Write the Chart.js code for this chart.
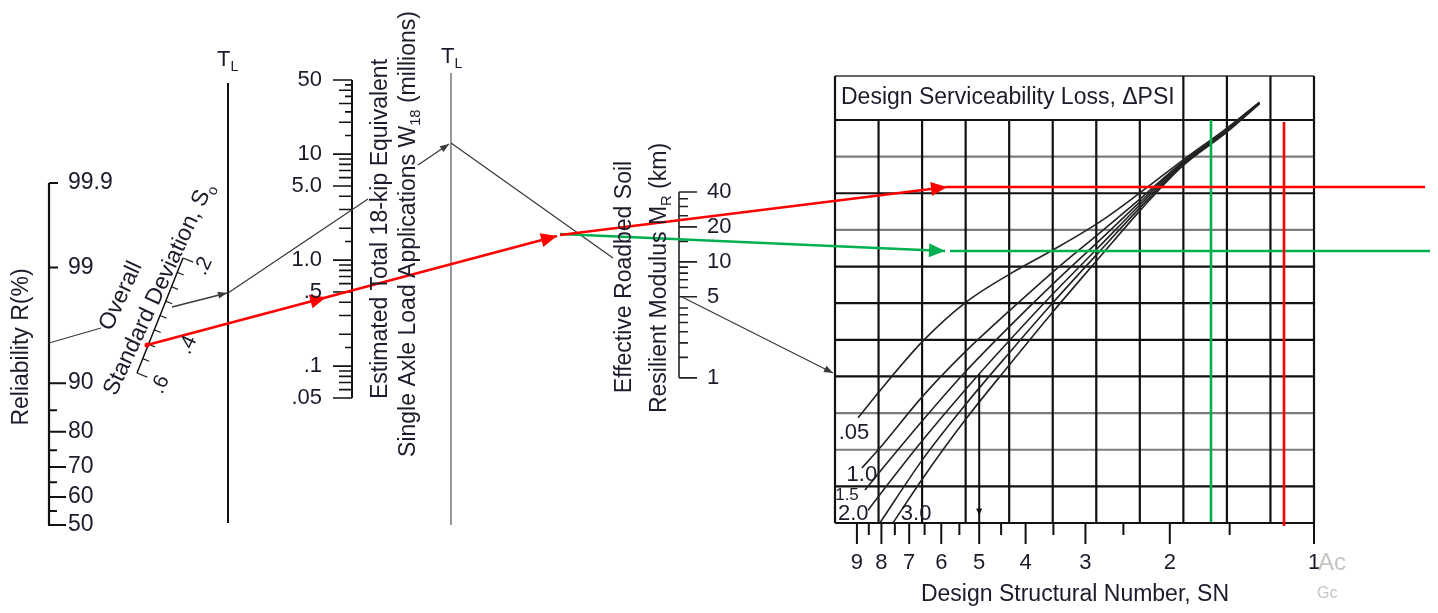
<!DOCTYPE html>
<html>
<head>
<meta charset="utf-8">
<title>Flexible pavement design nomograph</title>
<script src="https://cdn.jsdelivr.net/npm/chart.js@4.4.1/dist/chart.umd.min.js"></script>
<style>
body { margin: 0; background: #fff; }
canvas { display: block; }
</style>
</head>
<body>
<canvas id="nomo" width="1438" height="613"></canvas>
<script>
"use strict";

let reliabilityTicks = [50, 55, 60, 65, 70, 75, 80, 85, 90, 99, 99.9];
let reliabilityLabels = [99.9, 99, 90, 80, 70, 60, 50];
let deviationTicks = [0.2, 0.25, 0.3, 0.35, 0.4, 0.45, 0.5, 0.55, 0.6];
let deviationLabels = [0.2, 0.4, 0.6];
let loadTicks = [0.05, 0.06, 0.07, 0.08, 0.09, 0.1, 0.15, 0.2, 0.3, 0.4, 0.5, 0.6, 0.7, 0.8, 0.9,
                 1, 1.5, 2, 3, 4, 5, 6, 7, 8, 9, 10, 15, 20, 25, 30, 35, 40, 45, 50];
let loadLabels = [50, 10, 5, 1, 0.5, 0.1, 0.05];
let loadLabelText = ["50", "10", "5.0", "1.0", ".5", ".1", ".05"];
let modulusTicks = [1, 1.5, 2, 2.5, 3, 3.5, 4, 5, 6, 7, 8, 9, 10, 15, 20, 25, 30, 35, 40];
let modulusLabels = [40, 20, 10, 5, 1];
let snTicks = [1.5, 2, 2.5, 3, 3.5, 4, 4.5, 5, 5.5, 6, 6.5, 7, 7.5, 8, 8.5, 9];
let snLabels = [9, 8, 7, 6, 5, 4, 3, 2, 1];

// serviceability loss curves: [SN, grid rows above the SN axis]
let psi005 = [[8.95, 2.87], [8.13, 3.55], [6.55, 4.97], [5.35, 6.01], [4.31, 6.80], [3.51, 7.45],
              [2.80, 8.22], [2.31, 9.01], [1.89, 9.88], [1.52, 10.78], [1.30, 11.49]];
let psi10 = [[8.79, 1.50], [8.13, 1.99], [6.55, 3.47], [5.35, 4.67], [4.31, 5.81], [3.51, 6.85],
             [2.80, 7.92], [2.31, 8.84], [1.89, 9.83], [1.52, 10.73], [1.30, 11.46]];
let psi15 = [[8.66, 0.90], [8.13, 1.34], [6.55, 2.81], [5.35, 4.12], [4.31, 5.38], [3.51, 6.52],
             [2.80, 7.72], [2.31, 8.76], [1.89, 9.80], [1.52, 10.73], [1.30, 11.46]];
let psi20 = [[8.53, 0.35], [8.13, 0.71], [6.55, 2.27], [5.35, 3.63], [4.31, 5.00], [3.51, 6.25],
             [2.80, 7.56], [2.31, 8.68], [1.89, 9.77], [1.52, 10.70], [1.30, 11.46]];
let psi25 = [[8.06, 0], [6.55, 1.75], [5.35, 3.22], [4.31, 4.67], [3.51, 6.01],
             [2.80, 7.42], [2.31, 8.60], [1.89, 9.74], [1.52, 10.70], [1.30, 11.46]];
let psi30 = [[7.57, 0], [6.55, 1.23], [5.35, 2.81], [4.31, 4.34], [3.51, 5.76],
             [2.80, 7.26], [2.31, 8.52], [1.89, 9.72], [1.52, 10.67], [1.30, 11.44]];
let curveLabels = [".05", "1.0", "1.5", "2.0", "3.0"];

// worked example: result SN and the row where it leaves the curves
let snResult = 5;
let snResultRow = 4.07;

// guide lines of the worked example (drawing units)
let guideBlack = [[[49, 343], [101, 328]], [[172, 307], [227, 293]], [[228, 293], [368, 199]],
                  [[418, 165], [449, 144]], [[451, 143], [613, 258]], [[682, 297], [833, 373]]];
let guideRed = [[[147, 345], [557, 236]], [[560, 235], [947, 187]], [[947, 187], [1425, 187]],
                [[1284, 122], [1284, 526]]];
let guideGreen = [[[560, 234], [945, 251]], [[950, 251], [1430, 251]], [[1211, 120], [1211, 522]]];

// ---- layout of the drawing ----
const W = 1438, H = 613;
const FONT = "'Liberation Sans', Arial, Helvetica, sans-serif";
const INK = "#1b1b2c";
const R_AXIS = {x: 49, zero: 525, perZ: 110.7};
const SD_AXIS = {x0: 137, y0: 373, x1: 183, y1: 258, lo: 0.6, hi: 0.2};
const TL1 = {x: 228, top: 83, bottom: 523};
const TL2 = {x: 451, top: 73, bottom: 525};
const W_AXIS = {x: 352, top: 80, perDec: 106, topVal: 50};
const M_AXIS = {x: 679, top: 192, perDec: 116, topVal: 40};
const BOX = {left: 835, right: 1314, top: 120, cap: 76, bottom: 523, cols: 11, rows: 11, band: 8};
const grayRows = [2, 3, 8, 10];
const colW = (BOX.right - BOX.left) / BOX.cols;
const rowH = (BOX.bottom - BOX.top) / BOX.rows;
const decW = BOX.right - BOX.left;            // SN 10 -> 1 spans the box
const gTop = (BOX.bottom - BOX.cap) / rowH;
const curveLabelAt = [[9.13, 2.46, 22], [8.79, 1.31, 22], [9.44, 0.76, 17], [9.16, 0.25, 22], [6.77, 0.25, 22]];
const devLabelShift = [[22, 0], [37, -17], [26, -2]];

// inverse standard normal (Acklam)
function normInv(p) {
    const a = [-39.69683028665376, 220.9460984245205, -275.9285104469687, 138.3577518672690, -30.66479806614716, 2.506628277459239];
    const b = [-54.47609879822406, 161.5858368580409, -155.6989798598866, 66.80131188771972, -13.28068155288572];
    const c = [-0.007784894002430293, -0.3223964580411365, -2.400758277161838, -2.549732539343734, 4.374664141464968, 2.938163982698783];
    const d = [0.007784695709041462, 0.3224671290700398, 2.445134137142996, 3.754408661907416];
    let q, r;
    if (p < 0.02425) {
        q = Math.sqrt(-2 * Math.log(p));
        return (((((c[0]*q+c[1])*q+c[2])*q+c[3])*q+c[4])*q+c[5]) / ((((d[0]*q+d[1])*q+d[2])*q+d[3])*q+1);
    }
    if (p > 1 - 0.02425) {
        q = Math.sqrt(-2 * Math.log(1 - p));
        return -(((((c[0]*q+c[1])*q+c[2])*q+c[3])*q+c[4])*q+c[5]) / ((((d[0]*q+d[1])*q+d[2])*q+d[3])*q+1);
    }
    q = p - 0.5; r = q * q;
    return (((((a[0]*r+a[1])*r+a[2])*r+a[3])*r+a[4])*r+a[5])*q / (((((b[0]*r+b[1])*r+b[2])*r+b[3])*r+b[4])*r+1);
}

function relY(v) { return R_AXIS.zero - R_AXIS.perZ * normInv(v / 100); }
function loadY(v) { return W_AXIS.top + W_AXIS.perDec * Math.log10(W_AXIS.topVal / v); }
function modY(v) { return M_AXIS.top + M_AXIS.perDec * Math.log10(M_AXIS.topVal / v); }
const sdLen = Math.hypot(SD_AXIS.x1 - SD_AXIS.x0, SD_AXIS.y1 - SD_AXIS.y0);
const sdDir = [(SD_AXIS.x1 - SD_AXIS.x0) / sdLen, (SD_AXIS.y1 - SD_AXIS.y0) / sdLen];
const sdPerp = [-sdDir[1], sdDir[0]];
function devPoint(v) {
    let t = (SD_AXIS.lo - v) / (SD_AXIS.lo - SD_AXIS.hi);
    return [SD_AXIS.x0 + (SD_AXIS.x1 - SD_AXIS.x0) * t, SD_AXIS.y0 + (SD_AXIS.y1 - SD_AXIS.y0) * t];
}

function pt(x, y) { return {x: x, y: y}; }
function segments(list) {
    let out = [];
    list.forEach(function (s) {
        out.push(pt(s[0][0], s[0][1]), pt(s[1][0], s[1][1]), {x: null, y: null});
    });
    return out;
}

let datasets = [];
function addLine(data, style) {
    datasets.push(Object.assign({
        data: data, showLine: true, pointRadius: 0, pointHoverRadius: 0, borderWidth: 1.5, borderColor: INK,
        xAxisID: "px", yAxisID: "py", clip: false, spanGaps: false, tension: 0, order: 5
    }, style));
}

// reliability scale
addLine(segments([[[R_AXIS.x, relY(99.9)], [R_AXIS.x, relY(50) + 1]]]), {borderWidth: 2.2, borderColor: "#111"});
addLine(segments(reliabilityTicks.map(function (v) {
    let len = reliabilityLabels.indexOf(v) < 0 ? 8 : (v > 95 ? 9 : 17);
    return [[R_AXIS.x, relY(v)], [R_AXIS.x + len, relY(v)]];
})), {borderWidth: 2, borderColor: "#111"});

// overall standard deviation scale
addLine(segments([[devPoint(SD_AXIS.lo), devPoint(SD_AXIS.hi)]]), {borderWidth: 1.5, borderColor: "#111"});
addLine(segments(deviationTicks.map(function (v) {
    let p = devPoint(v), len = (v === SD_AXIS.lo || v === SD_AXIS.hi) ? 11 : 7;
    return [p, [p[0] + sdPerp[0] * len, p[1] + sdPerp[1] * len]];
})), {borderWidth: 1.2, borderColor: "#222"});

// turning lines
addLine(segments([[[TL1.x, TL1.top], [TL1.x, TL1.bottom]]]), {borderWidth: 2, borderColor: "#111"});
addLine(segments([[[TL2.x, TL2.top], [TL2.x, TL2.bottom]]]), {borderWidth: 1.2, borderColor: "#555"});

// W18 scale
addLine(segments([[[W_AXIS.x, loadY(50)], [W_AXIS.x, loadY(0.05)]]]), {borderWidth: 2, borderColor: "#111"});
addLine(segments(loadTicks.map(function (v) {
    let m = v / Math.pow(10, Math.floor(Math.log10(v) + 1e-9));
    let len = loadLabels.indexOf(v) >= 0 ? 19 : (Math.abs(m - Math.round(m)) > 0.01 ? 7 : 13);
    return [[W_AXIS.x - len, loadY(v)], [W_AXIS.x, loadY(v)]];
})), {borderWidth: 1.6, borderColor: "#111"});

// MR scale
addLine(segments([[[M_AXIS.x, modY(40)], [M_AXIS.x, modY(1)]]]), {borderWidth: 1.6, borderColor: "#222"});
addLine(segments(modulusTicks.map(function (v) {
    let len = modulusLabels.indexOf(v) >= 0 ? 18 : 9;
    return [[M_AXIS.x, modY(v)], [M_AXIS.x + len, modY(v)]];
})), {borderWidth: 1.6, borderColor: "#222"});

// design chart grid
let darkGrid = [], grayGrid = [];
for (let c = 0; c <= BOX.cols; c++) {
    darkGrid.push([[c, 0], [c, (c === 0 || c >= BOX.band) ? gTop : BOX.rows]]);
}
for (let r = 0; r <= BOX.rows; r++) {
    (grayRows.indexOf(r) >= 0 ? grayGrid : darkGrid).push([[0, r], [BOX.cols, r]]);
}
addLine(segments(darkGrid), {xAxisID: "gx", yAxisID: "gy", borderWidth: 2.2, borderColor: "#111", order: 9});
addLine(segments(grayGrid), {xAxisID: "gx", yAxisID: "gy", borderWidth: 2.2, borderColor: "#7d7d7d", order: 9});
addLine(segments([[[0, gTop], [BOX.cols, gTop]]]), {xAxisID: "gx", yAxisID: "gy", borderWidth: 2, borderColor: "#666", order: 9});

// SN axis ticks
addLine(segments(snTicks.concat([1]).map(function (v) {
    let len = snLabels.indexOf(v) >= 0 ? 21 : 12;
    return [[v, BOX.bottom], [v, BOX.bottom + len]];
})), {xAxisID: "sn", yAxisID: "py", borderWidth: 2, borderColor: "#111", order: 9});

// serviceability curves
[psi005, psi10, psi15, psi20, psi25, psi30].forEach(function (c) {
    addLine(c.map(function (p) { return pt(p[0], p[1]); }),
        {xAxisID: "sn", yAxisID: "gy", borderWidth: 1.6, borderColor: "#222",
         cubicInterpolationMode: "monotone", order: 7});
});

// worked example guides
addLine(segments(guideBlack), {borderWidth: 1.3, borderColor: "#3a3a3a", order: 3,
    arrows: [{i: 4, f: 1, len: 9, half: 3.5}, {i: 10, f: 1, len: 9, half: 3.5}, {i: 16, f: 1, len: 9, half: 3.5}]});
addLine(segments([[[snResult, snResultRow], [snResult, 0]]]), {xAxisID: "sn", yAxisID: "gy",
    borderWidth: 2, borderColor: "#111", order: 3, arrows: [{i: 1, f: 0.95, len: 7, half: 3}]});
addLine(segments(guideRed), {borderWidth: 2.6, borderColor: "#ff0000", order: 1,
    pointRadius: function (ctx) { return ctx.dataIndex === 0 ? 2.5 : 0; }, pointBackgroundColor: "#ff0000",
    pointBorderWidth: 0,
    arrows: [{i: 1, f: 0.437, len: 16, half: 7}, {i: 1, f: 1, len: 16, half: 7}, {i: 4, f: 1, len: 16, half: 7}]});
addLine(segments(guideGreen), {borderWidth: 2.6, borderColor: "#00b050", order: 2,
    arrows: [{i: 1, f: 1, len: 16, half: 7}]});

// arrow heads on guide segments
const arrowPlugin = {
    id: "arrows",
    afterDatasetsDraw(chart) {
        let ctx = chart.ctx;
        chart.data.datasets.forEach(function (ds, k) {
            if (!ds.arrows) return;
            let pts = chart.getDatasetMeta(k).data;
            ds.arrows.forEach(function (a) {
                let p0 = pts[a.i - 1], p1 = pts[a.i];
                let tx = p0.x + (p1.x - p0.x) * a.f, ty = p0.y + (p1.y - p0.y) * a.f;
                ctx.save();
                ctx.translate(tx, ty);
                ctx.rotate(Math.atan2(p1.y - p0.y, p1.x - p0.x));
                ctx.beginPath();
                ctx.moveTo(0, 0);
                ctx.lineTo(-a.len, -a.half);
                ctx.lineTo(-a.len, a.half);
                ctx.closePath();
                ctx.fillStyle = ds.borderColor;
                ctx.fill();
                ctx.restore();
            });
        });
    }
};

function rich(ctx, parts, x, y, rot, align, size, color) {
    ctx.save();
    ctx.translate(x, y);
    ctx.rotate(rot * Math.PI / 180);
    ctx.fillStyle = color || INK;
    ctx.textBaseline = "middle";
    ctx.textAlign = "left";
    let widths = parts.map(function (p) {
        ctx.font = (p.sub ? size * 0.64 : size) + "px " + FONT;
        return ctx.measureText(p.t).width;
    });
    let total = widths.reduce(function (a, b) { return a + b; }, 0);
    let cx = align === "center" ? -total / 2 : (align === "right" ? -total : 0);
    parts.forEach(function (p, i) {
        ctx.font = (p.sub ? size * 0.64 : size) + "px " + FONT;
        ctx.fillText(p.t, cx, p.sub ? size * 0.32 : 0);
        cx += widths[i];
    });
    ctx.restore();
}
function txt(ctx, s, x, y, rot, align, size, color) { rich(ctx, [{t: s}], x, y, rot, align, size, color); }

const textPlugin = {
    id: "nomoText",
    afterDraw(chart) {
        let ctx = chart.ctx, s = chart.scales;
        let X = function (v) { return s.px.getPixelForValue(v); };
        let Y = function (v) { return s.py.getPixelForValue(v); };

        reliabilityLabels.forEach(function (v) { txt(ctx, String(v), X(R_AXIS.x + 19), Y(relY(v)), 0, "left", 23); });
        deviationLabels.forEach(function (v, i) {
            let p = devPoint(v), sh = devLabelShift[i];
            txt(ctx, String(v).replace("0.", "."), X(p[0] + sdPerp[0] * sh[0] + sdDir[0] * sh[1]),
                Y(p[1] + sdPerp[1] * sh[0] + sdDir[1] * sh[1]), -65, "center", 21);
        });
        loadLabels.forEach(function (v, i) { txt(ctx, loadLabelText[i], X(W_AXIS.x - 30), Y(loadY(v)), 0, "right", 22); });
        modulusLabels.forEach(function (v) { txt(ctx, String(v), X(M_AXIS.x + 28), Y(modY(v)), 0, "left", 22); });
        snLabels.forEach(function (v) { txt(ctx, String(v), s.sn.getPixelForValue(v), Y(563), 0, "center", 22); });
        curveLabels.forEach(function (t, i) {
            let a = curveLabelAt[i];
            txt(ctx, t, s.sn.getPixelForValue(a[0]), s.gy.getPixelForValue(a[1]), 0, "center", a[2]);
        });

        txt(ctx, "Reliability R(%)", X(22), Y(347), -90, "center", 23);
        txt(ctx, "Overall", X(121), Y(296), -65, "center", 23);
        rich(ctx, [{t: "Standard Deviation, S"}, {t: "o", sub: true}], X(159), Y(289), -65, "center", 23);
        rich(ctx, [{t: "T"}, {t: "L", sub: true}], X(217), Y(60), 0, "left", 22);
        rich(ctx, [{t: "T"}, {t: "L", sub: true}], X(441), Y(57), 0, "left", 22);
        txt(ctx, "Estimated Total 18-kip Equivalent", X(381), Y(229), -90, "center", 23);
        rich(ctx, [{t: "Single Axle Load Applications W"}, {t: "18", sub: true}, {t: " (millions)"}],
            X(409), Y(234), -90, "center", 23);
        txt(ctx, "Effective Roadbed Soil", X(625), Y(277), -90, "center", 23);
        rich(ctx, [{t: "Resilient Modulus M"}, {t: "R", sub: true}, {t: " (km)"}], X(660), Y(278), -90, "center", 23);
        txt(ctx, "Design Serviceability Loss, \u0394PSI", X(841), Y(98), 0, "left", 23);
        txt(ctx, "Design Structural Number, SN", X(1075), Y(595), 0, "center", 23);
        txt(ctx, "Ac", X(1318), Y(563), 0, "left", 24, "#c4c4c4");
        txt(ctx, "Gc", X(1317), Y(594), 0, "left", 16, "#c4c4c4");
    }
};

new Chart(document.getElementById("nomo"), {
    type: "scatter",
    data: {datasets: datasets},
    options: {
        responsive: false,
        animation: false,
        devicePixelRatio: 1,
        events: [],
        layout: {padding: 0, autoPadding: false},
        plugins: {legend: {display: false}, tooltip: {enabled: false}, title: {display: false}},
        scales: {
            px: {type: "linear", axis: "x", min: 0, max: W, display: false},
            py: {type: "linear", axis: "y", min: 0, max: H, reverse: true, display: false},
            sn: {type: "logarithmic", axis: "x", reverse: true, display: false,
                 min: Math.pow(10, -(W - BOX.right) / decW), max: Math.pow(10, 1 + BOX.left / decW)},
            gx: {type: "linear", axis: "x", display: false, min: -BOX.left / colW, max: (W - BOX.left) / colW},
            gy: {type: "linear", axis: "y", display: false, min: -(H - BOX.bottom) / rowH, max: BOX.bottom / rowH}
        }
    },
    plugins: [arrowPlugin, textPlugin]
});
</script>
</body>
</html>
